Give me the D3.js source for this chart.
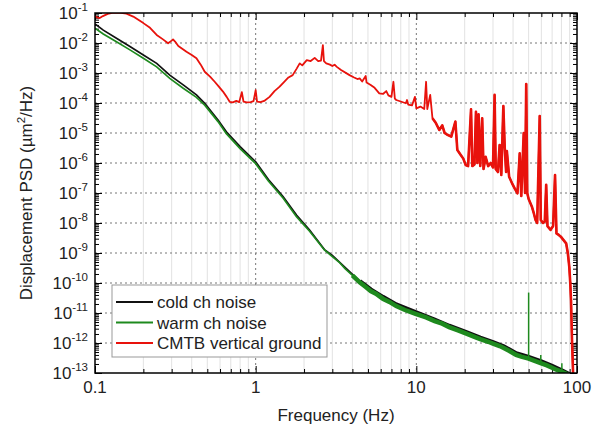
<!DOCTYPE html>
<html>
<head>
<meta charset="utf-8">
<script src="https://cdn.jsdelivr.net/npm/d3@7"></script>
<style>
body { margin: 0; background: #fff; }
svg { font-family: "Liberation Sans", Arial, sans-serif; }
</style>
</head>
<body>
<svg width="599" height="431"></svg>
<script>
// ---- data: [frequency Hz, PSD um^2/Hz] ----
var coldNoise = [
  [0.100, 4.3e-2], [0.1126, 2.69e-2], [0.136, 1.45e-2], [0.165, 7.6e-3], [0.2, 4.0e-3],
  [0.242, 2.09e-3], [0.292, 8.5e-4], [0.354, 4.0e-4], [0.428, 1.86e-4], [0.482, 9.8e-5],
  [0.583, 2.7e-5], [0.657, 1.1e-5], [0.8, 3.5e-6], [1.0, 1.1e-6], [1.2, 2.8e-7],
  [1.48, 7.6e-8], [1.8, 1.8e-8], [2.16, 5.9e-9], [2.68, 1.3e-9], [3.0, 8.3e-10],
  [3.6, 3.3e-10], [4.44, 1.15e-10], [5.2, 6.0e-11], [6.19, 3.4e-11], [7.5, 1.9e-11],
  [9.9, 1.05e-11], [13, 5.9e-12], [16, 3.7e-12], [20.3, 2.3e-12], [25, 1.48e-12],
  [30, 1.05e-12], [35, 7.6e-13], [41.8, 4.5e-13], [50, 3.4e-13], [60, 2.4e-13],
  [70, 1.7e-13], [81.5, 1.17e-13], [90, 8.9e-14]
];

var warmNoise = [
  [0.100, 3.1e-2], [0.1126, 2.0e-2], [0.136, 1.1e-2], [0.165, 5.9e-3], [0.2, 3.1e-3],
  [0.242, 1.6e-3], [0.292, 6.6e-4], [0.354, 3.1e-4], [0.428, 1.55e-4], [0.482, 8.5e-5],
  [0.583, 2.4e-5], [0.657, 9.5e-6], [0.8, 3.0e-6], [1.0, 9.5e-7], [1.2, 2.5e-7],
  [1.48, 6.8e-8], [1.8, 1.6e-8], [2.16, 5.4e-9], [2.68, 1.26e-9], [3.0, 7.6e-10],
  [3.3, 5.0e-10], [3.6, 3.0e-10], [4.0, 1.8e-10], [4.44, 1.05e-10], [4.8, 7.6e-11],
  [5.2, 5.4e-11], [5.6, 4.4e-11], [6.19, 3.0e-11], [6.8, 2.35e-11], [7.5, 1.7e-11],
  [8.5, 1.26e-11], [9.9, 9.3e-12], [11.5, 7.1e-12], [13, 5.4e-12], [14.5, 4.4e-12],
  [16, 3.4e-12], [18, 2.7e-12], [20.3, 2.1e-12], [23, 1.6e-12], [25, 1.35e-12],
  [28, 1.1e-12], [30, 9.5e-13], [33, 7.9e-13], [35, 6.8e-13], [38, 5.4e-13],
  [41.8, 4.0e-13], [45, 3.5e-13], [50, 3.0e-13], [55, 2.5e-13], [60, 2.1e-13],
  [65, 1.8e-13], [70, 1.5e-13], [75, 1.26e-13], [80, 1.12e-13], [88, 8.9e-14]
];

// narrow lines on the warm channel: [frequency, base, top]
var warmSpikes = [[50, 3.0e-13, 4.8e-11], [59.5, 2.2e-13, 4.0e-13], [80.5, 1.1e-13, 2.1e-13]];

var groundMotion = [
  [0.100, 7.9e-2], [0.103, 7.1e-2], [0.107, 6.8e-2], [0.112, 7.9e-2], [0.12, 9.3e-2],
  [0.13, 1.02e-1], [0.145, 1.02e-1], [0.157, 9.5e-2], [0.173, 7.6e-2], [0.2, 4.6e-2],
  [0.22, 3.2e-2], [0.242, 1.86e-2], [0.265, 1.32e-2], [0.285, 9.8e-3], [0.3, 1.2e-2],
  [0.306, 1.32e-2], [0.315, 1.12e-2], [0.33, 7.9e-3], [0.371, 5.1e-3], [0.40, 4.0e-3],
  [0.428, 3.1e-3], [0.455, 1.9e-3], [0.482, 1.1e-3], [0.52, 7.6e-4], [0.556, 5.1e-4],
  [0.59, 3.5e-4], [0.626, 2.4e-4], [0.66, 1.6e-4], [0.689, 1.1e-4], [0.72, 1.05e-4],
  [0.758, 1.17e-4], [0.79, 1.07e-4], [0.82, 2.3e-4], [0.84, 1.12e-4], [0.88, 1.05e-4],
  [0.93, 1.07e-4], [0.97, 1.15e-4], [1.0, 2.7e-4], [1.02, 1.12e-4], [1.07, 1.07e-4],
  [1.13, 1.17e-4], [1.22, 1.6e-4], [1.31, 2.5e-4], [1.41, 3.5e-4], [1.5, 5.0e-4],
  [1.6, 7.1e-4], [1.7, 8.5e-4], [1.8, 1.4e-3], [1.88, 2.1e-3], [1.95, 1.8e-3],
  [2.08, 2.7e-3], [2.2, 2.5e-3], [2.33, 3.2e-3], [2.45, 2.5e-3], [2.55, 2.6e-3],
  [2.62, 8.5e-3], [2.66, 2.5e-3], [2.75, 2.1e-3], [2.9, 1.9e-3], [3.0, 1.7e-3],
  [3.1, 1.9e-3], [3.2, 1.6e-3], [3.4, 1.26e-3], [3.84, 8.5e-4], [4.1, 7.1e-4],
  [4.3, 6.3e-4], [4.44, 6.6e-4], [4.6, 5.2e-4], [4.84, 7.9e-4], [4.9, 4.8e-4],
  [5.2, 4.0e-4], [5.5, 3.2e-4], [5.88, 2.1e-4], [6.2, 2.0e-4], [6.5, 2.5e-4],
  [6.7, 1.8e-4], [7.0, 1.6e-4], [7.2, 5.1e-4], [7.35, 1.4e-4], [7.5, 1.26e-4],
  [8.0, 1.12e-4], [8.6, 9.8e-5], [8.75, 1.26e-4], [8.9, 8.9e-5], [9.4, 8.3e-5],
  [9.8, 1.6e-4], [10.0, 6.6e-5], [10.6, 7.6e-5], [11.2, 6.3e-5], [11.5, 5.1e-4],
  [11.7, 6.3e-5], [12.2, 1.86e-4], [12.6, 3.1e-5], [13.2, 2.2e-5], [13.9, 1.26e-5],
  [14.5, 1.8e-5], [15.0, 1.0e-5], [15.5, 8.9e-6], [16.5, 7.6e-6], [17.5, 2.4e-5],
  [18.0, 2.7e-6], [18.9, 1.86e-6], [19.6, 1.4e-6], [20.3, 8.5e-7], [21.0, 7.9e-7],
  [21.9, 6.2e-5], [22.3, 7.9e-7], [23.0, 8.9e-7], [23.5, 5.1e-5], [24.0, 1.0e-6],
  [24.4, 4.2e-5], [25.0, 7.9e-7], [25.7, 3.1e-5], [26.2, 6.3e-7], [27.0, 1.6e-6],
  [28.0, 7.9e-7], [29.0, 1.0e-6], [30.0, 7.1e-7], [30.7, 1.86e-4], [31.2, 6.3e-7],
  [32.2, 5.0e-7], [33.0, 4.0e-6], [33.8, 4.0e-7], [34.8, 7.9e-5], [35.5, 3.2e-6],
  [36.2, 5.0e-7], [36.6, 2.5e-6], [37.8, 3.5e-7], [39.6, 2.0e-7], [41.0, 1.4e-7],
  [42.6, 9.8e-8], [44.0, 2.1e-6], [45.0, 7.9e-8], [46.6, 1.0e-5], [47.5, 1.0e-7],
  [48.3, 4.3e-4], [49.0, 1.0e-7], [50.0, 6.3e-8], [52.4, 3.5e-8], [54.0, 2.0e-8],
  [55.2, 1.26e-8], [56.5, 1.0e-8], [58.6, 3.7e-5], [59.5, 1.26e-8], [61.5, 1.0e-8],
  [63.0, 1.12e-8], [64.3, 1.86e-7], [65.5, 7.9e-9], [68.5, 5.9e-9], [71.0, 7.9e-9],
  [73.0, 4.0e-7], [74.5, 4.5e-9], [77.0, 4.0e-9], [79.3, 3.5e-9], [82.0, 2.8e-9],
  [85.6, 2.1e-9], [87.7, 9.8e-10], [89.5, 3.5e-10], [90.8, 1.0e-10], [91.8, 2.5e-11],
  [93.1, 1.26e-12], [94.8, 6.3e-14]
];

var xMajor = [0.1, 1, 10, 100];
var xLabels = ["0.1", "1", "10", "100"];
var yExponents = [-13, -12, -11, -10, -9, -8, -7, -6, -5, -4, -3, -2, -1];
var legendNames = ["cold ch noise", "warm ch noise", "CMTB vertical ground"];
var colors = ["#111111", "#1e8a1e", "#e8120c"];

var svg = d3.select("svg"),
    margin = {left: 95, top: 13, right: 22, bottom: 58},
    width = 599 - margin.left - margin.right,
    height = 431 - margin.top - margin.bottom;

var x = d3.scaleLog().domain([0.1, 100]).range([0, width]);
var y = d3.scaleLog().domain([1e-13, 1e-1]).range([height, 0]);

var g = svg.append("g").attr("transform", "translate(" + margin.left + "," + margin.top + ")");

// minor tick positions (2..9 in every decade)
var xMinor = [];
xMajor.slice(0, 3).forEach(function(d) {
  for (var m = 2; m <= 9; m++) xMinor.push(d * m);
});
var yMajor = yExponents.map(function(e) { return Math.pow(10, e); });
var yMinor = [];
yMajor.slice(0, yMajor.length - 1).forEach(function(d) {
  for (var m = 2; m <= 9; m++) yMinor.push(d * m);
});

// grid
g.append("g").selectAll("line").data(xMinor).enter().append("line")
  .attr("x1", function(d) { return x(d); }).attr("x2", function(d) { return x(d); })
  .attr("y1", 0).attr("y2", height)
  .attr("stroke", "#e2e2e2").attr("stroke-width", 1);

g.append("g").selectAll("line").data(xMajor.slice(1, 3)).enter().append("line")
  .attr("x1", function(d) { return x(d); }).attr("x2", function(d) { return x(d); })
  .attr("y1", 0).attr("y2", height)
  .attr("stroke", "#777").attr("stroke-width", 1).attr("stroke-dasharray", "2,3");

g.append("g").selectAll("line").data(yMajor.slice(1, yMajor.length - 1)).enter().append("line")
  .attr("x1", 0).attr("x2", width)
  .attr("y1", function(d) { return y(d); }).attr("y2", function(d) { return y(d); })
  .attr("stroke", "#777").attr("stroke-width", 1).attr("stroke-dasharray", "2,3");

// ticks on all four sides, pointing inward
function ticks(axis, vals, size, transform) {
  var a = g.append("g").attr("transform", transform || null)
    .call(axis.tickValues(vals).tickSize(size).tickFormat(""));
  a.select(".domain").remove();
  a.selectAll("line").attr("stroke", "#000").attr("stroke-width", 1);
}
ticks(d3.axisBottom(x), xMinor, -4, "translate(0," + height + ")");
ticks(d3.axisBottom(x), xMajor, -7, "translate(0," + height + ")");
ticks(d3.axisTop(x), xMinor, -4);
ticks(d3.axisTop(x), xMajor, -7);
ticks(d3.axisLeft(y), yMinor, -4);
ticks(d3.axisLeft(y), yMajor, -7);
ticks(d3.axisRight(y), yMinor, -4, "translate(" + width + ",0)");
ticks(d3.axisRight(y), yMajor, -7, "translate(" + width + ",0)");

// curves
g.append("clipPath").attr("id", "plotclip").append("rect")
  .attr("width", width).attr("height", height);

var line = d3.line()
  .x(function(d) { return x(d[0]); })
  .y(function(d) { return y(d[1]); });

var curves = g.append("g").attr("clip-path", "url(#plotclip)");

curves.append("path").datum(coldNoise)
  .attr("fill", "none").attr("stroke", colors[0]).attr("stroke-width", 1.7).attr("d", line);
curves.append("path").datum(coldNoise.filter(function(d) { return d[0] >= 4; }))
  .attr("fill", "none").attr("stroke", colors[0]).attr("stroke-width", 4.5).attr("d", line);

curves.append("path").datum(warmNoise)
  .attr("fill", "none").attr("stroke", colors[1]).attr("stroke-width", 1.7).attr("d", line);
curves.append("path").datum(warmNoise.filter(function(d) { return d[0] >= 4; }))
  .attr("fill", "none").attr("stroke", colors[1]).attr("stroke-width", 4.5).attr("d", line);
curves.selectAll(".spike").data(warmSpikes).enter().append("line")
  .attr("class", "spike")
  .attr("x1", function(d) { return x(d[0]); }).attr("x2", function(d) { return x(d[0]); })
  .attr("y1", function(d) { return y(d[1]); }).attr("y2", function(d) { return y(d[2]); })
  .attr("stroke", colors[1]).attr("stroke-width", 1.5);

curves.append("path").datum(groundMotion)
  .attr("fill", "none").attr("stroke", colors[2]).attr("stroke-width", 1.8)
  .attr("stroke-linejoin", "round").attr("d", line);
// the noisy high-frequency part of the ground curve reads as a thicker band
curves.append("path").datum(groundMotion.filter(function(d) { return d[0] >= 12.5; }))
  .attr("fill", "none").attr("stroke", colors[2]).attr("stroke-width", 2.6)
  .attr("stroke-linejoin", "round").attr("d", line);

// frame
g.append("rect").attr("width", width).attr("height", height)
  .attr("fill", "none").attr("stroke", "#000").attr("stroke-width", 1.5);

// tick labels
g.append("g").selectAll("text").data(xMajor).enter().append("text")
  .attr("x", function(d) { return x(d); })
  .attr("y", height + 20)
  .attr("text-anchor", "middle")
  .attr("font-size", "17px").attr("fill", "#222")
  .text(function(d, i) { return xLabels[i]; });

var yl = g.append("g").selectAll("text").data(yExponents).enter().append("text")
  .attr("x", -7)
  .attr("y", function(d) { return y(Math.pow(10, d)) + 6; })
  .attr("text-anchor", "end")
  .attr("font-size", "17px").attr("fill", "#222");
yl.append("tspan").text("10");
yl.append("tspan").attr("font-size", "11.5px").attr("dy", -8)
  .text(function(d) { return "-" + Math.abs(d); });

// axis titles
svg.append("text")
  .attr("x", margin.left + width / 2).attr("y", 421)
  .attr("text-anchor", "middle").attr("font-size", "17px").attr("fill", "#222")
  .text("Frequency (Hz)");

var yt = svg.append("text")
  .attr("transform", "translate(32," + (margin.top + height / 2) + ") rotate(-90)")
  .attr("text-anchor", "middle").attr("font-size", "17px").attr("fill", "#222");
yt.append("tspan").text("Displacement PSD (\u00b5m");
yt.append("tspan").attr("font-size", "11.5px").attr("dy", -7).text("2");
yt.append("tspan").attr("dy", 7).text("/Hz)");

// legend
var lg = g.append("g").attr("transform", "translate(" + (112 - margin.left) + "," + (285 - margin.top) + ")");
lg.append("rect").attr("width", 215).attr("height", 72)
  .attr("fill", "#fff").attr("stroke", "#999").attr("stroke-width", 1);
var items = lg.selectAll(".item").data(legendNames).enter().append("g")
  .attr("transform", function(d, i) { return "translate(0," + (17 + i * 20.5) + ")"; });
items.append("line").attr("x1", 4).attr("x2", 41)
  .attr("stroke", function(d, i) { return colors[i]; }).attr("stroke-width", 2);
items.append("text").attr("x", 45).attr("y", 6)
  .attr("font-size", "17px").attr("fill", "#222")
  .text(function(d) { return d; });
</script>
</body>
</html>
